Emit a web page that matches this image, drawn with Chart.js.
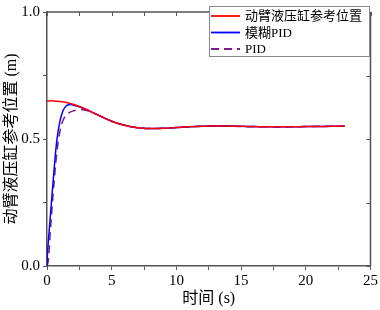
<!DOCTYPE html>
<html>
<head>
<meta charset="utf-8">
<script src="https://cdn.jsdelivr.net/npm/chart.js@4"></script>
<style>
  html, body { margin: 0; padding: 0; background: #fff; }
  #c { display: block; }
</style>
</head>
<body>
<canvas id="c" width="380" height="310"></canvas>
<script>
// time (s) and positions (m)
const refTime  = [0, 0.5, 1, 1.5, 2, 2.5, 3, 3.5, 4, 4.5, 5, 5.5, 6, 6.5, 7, 7.5, 8, 9, 10, 11, 12, 13, 14, 15, 16, 17, 18, 19, 20, 21, 22, 23];
const refPos   = [0.650, 0.650, 0.648, 0.644, 0.637, 0.628, 0.617, 0.605, 0.593, 0.581, 0.570, 0.561, 0.554, 0.548, 0.544, 0.542, 0.541, 0.542, 0.545, 0.548, 0.550, 0.551, 0.551, 0.550, 0.549, 0.548, 0.548, 0.548, 0.549, 0.549, 0.550, 0.550];

const fuzzyTime = [0, 0.05, 0.25, 0.5, 0.75, 1, 1.25, 1.5, 1.75, 2, 2.5, 3, 3.5, 4, 4.5, 5, 5.5, 6, 6.5, 7, 7.5, 8, 9, 10, 11, 12, 13, 14, 15, 16, 17, 18, 19, 20, 21, 22, 23];
const fuzzyPos  = [0, 0.06, 0.19, 0.35, 0.49, 0.57, 0.613, 0.631, 0.636, 0.634, 0.627, 0.617, 0.605, 0.593, 0.581, 0.570, 0.561, 0.554, 0.548, 0.544, 0.542, 0.541, 0.542, 0.545, 0.548, 0.550, 0.551, 0.551, 0.550, 0.549, 0.548, 0.548, 0.548, 0.549, 0.549, 0.550, 0.550];

const pidTime = [0, 0.1, 0.25, 0.5, 0.75, 1, 1.25, 1.5, 1.75, 2, 2.5, 3, 3.5, 4, 4.5, 5, 5.5, 6, 6.5, 7, 7.5, 8, 9, 10, 11, 12, 13, 14, 15, 16, 17, 18, 19, 20, 21, 22, 23];
const pidPos  = [0, 0.02, 0.13, 0.30, 0.44, 0.53, 0.575, 0.595, 0.605, 0.610, 0.616, 0.613, 0.604, 0.593, 0.581, 0.570, 0.561, 0.554, 0.548, 0.544, 0.542, 0.541, 0.542, 0.545, 0.548, 0.550, 0.552, 0.551, 0.549, 0.548, 0.548, 0.547, 0.548, 0.549, 0.550, 0.550, 0.551];

const seriesNames = ['动臂液压缸参考位置', '模糊PID', 'PID'];
const xTitle = '时间 (s)';
const yTitle = '动臂液压缸参考位置 (m)';

const FONT = "'Liberation Serif', 'Noto Sans CJK SC', serif";
const AXIS = '#555';

const toXY = (xs, ys) => xs.map((x, i) => ({ x: x, y: ys[i] }));

// ticks on top and right edges, pointing inward, plus frame and legend
const framePlugin = {
    id: 'frame',
    afterDraw(chart) {
        const ctx = chart.ctx;
        const a = chart.chartArea;
        const xs = chart.scales.x, ys = chart.scales.y;
        ctx.save();
        ctx.strokeStyle = AXIS;
        ctx.lineWidth = 1.5;
        ctx.beginPath();
        ctx.moveTo(a.left, a.top); ctx.lineTo(a.right, a.top);
        ctx.moveTo(a.right, a.top); ctx.lineTo(a.right, a.bottom);
        ctx.stroke();
        ctx.lineWidth = 1;
        ctx.beginPath();
        xs.ticks.forEach(t => {
            const px = Math.round(xs.getPixelForValue(t.value)) + 0.5;
            ctx.moveTo(px, a.top); ctx.lineTo(px, a.top + 4);
        });
        ys.ticks.forEach(t => {
            const py = Math.round(ys.getPixelForValue(t.value)) + 0.5;
            ctx.moveTo(a.right, py); ctx.lineTo(a.right - 4, py);
        });
        ctx.stroke();

        // legend box
        const bx = 209, by = 6, bw = 160, bh = 50;
        ctx.fillStyle = '#fff';
        ctx.fillRect(bx, by, bw, bh);
        ctx.strokeStyle = '#888';
        ctx.lineWidth = 1;
        ctx.strokeRect(bx + 0.5, by + 0.5, bw, bh);
        ctx.font = '13px ' + FONT;
        ctx.textBaseline = 'middle';
        chart.data.datasets.forEach((ds, i) => {
            const y = by + 10 + i * 16.5;
            ctx.strokeStyle = ds.borderColor;
            ctx.lineWidth = 1.8;
            ctx.setLineDash(ds.borderDash || []);
            ctx.beginPath();
            ctx.moveTo(bx + 2, y); ctx.lineTo(bx + 31, y);
            ctx.stroke();
            ctx.setLineDash([]);
            ctx.fillStyle = '#000';
            ctx.fillText(ds.label, bx + 36, y + 1);
        });
        ctx.restore();
    }
};

new Chart(document.getElementById('c'), {
    type: 'line',
    data: {
        datasets: [
            { label: seriesNames[0], data: toXY(refTime, refPos), borderColor: '#ff0000', borderWidth: 1.5, pointRadius: 0, tension: 0.4, fill: false },
            { label: seriesNames[1], data: toXY(fuzzyTime, fuzzyPos), borderColor: '#0000ff', borderWidth: 1.5, pointRadius: 0, tension: 0.4, fill: false },
            { label: seriesNames[2], data: toXY(pidTime, pidPos), borderColor: '#7a1f86', borderWidth: 1.5, borderDash: [8, 5], pointRadius: 0, tension: 0.4, fill: false }
        ]
    },
    options: {
        responsive: false,
        animation: false,
        layout: { padding: { top: 6, right: 8, left: 0, bottom: 0 } },
        plugins: { legend: { display: false }, tooltip: { enabled: false } },
        scales: {
            x: {
                type: 'linear', min: 0, max: 25,
                afterFit: s => { s.height = 44; },
                ticks: {
                    stepSize: 2.5, autoSkip: false, maxRotation: 0,
                    color: '#000', font: { family: FONT, size: 15 }, padding: 2,
                    callback: v => (v % 5 === 0 ? String(v) : '')
                },
                grid: { drawOnChartArea: false, color: AXIS, tickLength: 4 },
                border: { color: AXIS, width: 1.5 },
                title: { display: true, text: xTitle, color: '#000', font: { family: FONT, size: 16 }, padding: { top: 0, bottom: 2 } }
            },
            y: {
                min: 0, max: 1,
                afterFit: s => { s.width = 47; },
                ticks: {
                    stepSize: 0.25, autoSkip: false,
                    color: '#000', font: { family: FONT, size: 15 }, padding: 3,
                    callback: v => (Math.abs(v * 2 - Math.round(v * 2)) < 1e-6 ? v.toFixed(1) : '')
                },
                grid: { drawOnChartArea: false, color: AXIS, tickLength: 4 },
                border: { color: AXIS, width: 1.5 },
                title: { display: true, text: yTitle, color: '#000', font: { family: FONT, size: 16 }, padding: { top: 2, bottom: 0 } }
            }
        }
    },
    plugins: [framePlugin]
});
</script>
</body>
</html>
